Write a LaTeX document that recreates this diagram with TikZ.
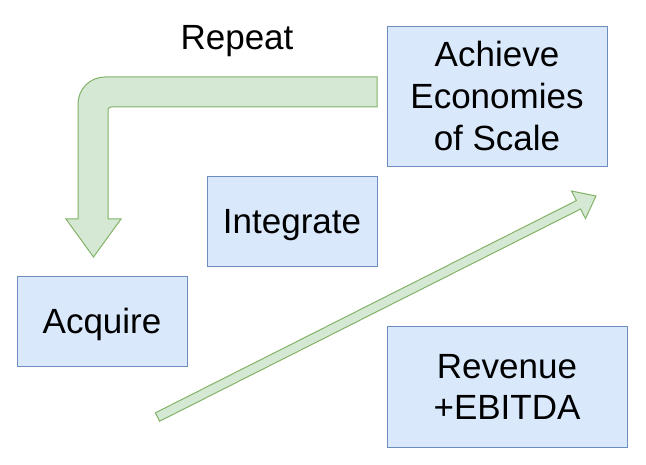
\documentclass[tikz,border=0pt]{standalone}
\usepackage{fontspec}
\setmainfont{Liberation Sans}
\newcommand{\lnst}{\rule[-9pt]{0pt}{42pt}}
\definecolor{boxfill}{HTML}{DAE8FC}
\definecolor{boxline}{HTML}{6C8EBF}
\definecolor{arrfill}{HTML}{D5E8D4}
\definecolor{arrline}{HTML}{82B366}
\tikzset{
  box/.style={draw=boxline, fill=boxfill, line width=1pt, inner sep=0pt, align=center,
    font=\fontsize{35}{42}\selectfont},
  bigarrow/.style={draw=arrline, fill=arrfill, line width=1pt, line join=miter},
  lbl/.style={font=\fontsize{35}{42}\selectfont, inner sep=0pt}
}
\begin{document}
\begin{tikzpicture}[x=1pt,y=-1pt]
\useasboundingbox (0,0) rectangle (646,465);
% bent arrow
\draw[bigarrow] (377,77) -- (105,77) .. controls (90,77) and (78,89) .. (78,104)
  -- (78,219) -- (66,219) -- (93.5,257) -- (121,219) -- (108,219) -- (108,110)
  .. controls (108,108.3) and (109.3,107) .. (111,107) -- (377,107) -- cycle;
% diagonal arrow
\draw[bigarrow] (155.4,412.8) -- (576.4,200.6) -- (571.5,191.0) -- (596,196)
  -- (585.5,218.6) -- (580.6,209.0) -- (159.6,421.2) -- cycle;
% boxes
\node[box, minimum width=220pt, minimum height=140pt] (achieve) at (497,97)
  {\lnst Achieve\\\lnst Economies\\\lnst of Scale};
\node[box, minimum width=170pt, minimum height=90pt] (integrate) at (292,222)
  {\lnst Integrate};
\node[box, minimum width=170pt, minimum height=90pt] (acquire) at (102,322)
  {\lnst Acquire};
\node[box, minimum width=240pt, minimum height=120pt] (revenue) at (507,387)
  {\lnst Revenue\\\lnst +EBITDA};
\node[lbl, anchor=base] (repeat) at (237,50) {Repeat};
\end{tikzpicture}
\end{document}
